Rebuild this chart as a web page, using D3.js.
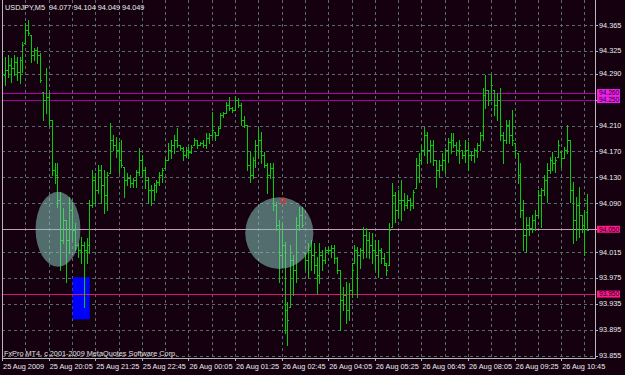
<!DOCTYPE html>
<html>
<head>
<meta charset="utf-8">
<script src="https://cdn.jsdelivr.net/npm/d3@7"></script>
<style>
  body { margin: 0; background: #14000f; }
  svg { display: block; }
  text { font-family: "Liberation Sans", Arial, sans-serif; font-size: 7.3px; }
</style>
</head>
<body>
<div id="chart"></div>
<script>
// USDJPY M5 bars, 25 Aug 2009 18:50 .. 26 Aug 2009 11:30
var symbol = "USDJPY,M5";
var lastQuote = ["94.077", "94.104", "94.049", "94.049"];

var open = [
  94.288,94.296,94.303,94.299,94.308,94.292,94.311,94.337,94.357,94.350,
  94.319,94.326,94.319,94.262,94.249,94.254,94.218,94.141,94.134,94.095,
  94.033,94.064,94.033,94.080,94.049,94.026,94.018,94.026,94.018,94.026,
  94.087,94.126,94.111,94.141,94.118,94.103,94.137,94.188,94.180,94.172,
  94.157,94.146,94.126,94.129,94.121,94.126,94.138,94.157,94.141,94.126,
  94.111,94.111,94.118,94.123,94.134,94.144,94.157,94.172,94.180,94.188,
  94.180,94.175,94.165,94.172,94.169,94.180,94.188,94.180,94.183,94.180,
  94.191,94.195,94.200,94.195,94.206,94.226,94.229,94.242,94.237,94.234,
  94.249,94.242,94.218,94.211,94.149,94.134,94.157,94.180,94.188,94.165,
  94.149,94.134,94.144,94.087,94.057,94.010,94.026,93.926,93.930,94.003,
  93.987,94.057,94.072,94.013,94.003,94.018,94.010,93.995,93.980,94.010,
  94.003,94.018,94.018,94.021,94.006,93.987,93.941,93.949,93.926,93.956,
  93.998,94.018,94.010,94.018,94.041,94.033,94.026,94.018,94.010,94.018,
  94.006,93.995,93.995,94.053,94.103,94.080,94.095,94.095,94.087,94.095,
  94.087,94.114,94.149,94.157,94.172,94.195,94.172,94.180,94.157,94.141,
  94.149,94.157,94.172,94.185,94.188,94.180,94.172,94.172,94.165,94.172,
  94.165,94.165,94.172,94.180,94.195,94.257,94.265,94.249,94.265,94.242,
  94.249,94.195,94.188,94.211,94.195,94.183,94.168,94.134,94.080,94.041,
  94.057,94.052,94.064,94.072,94.103,94.111,94.126,94.141,94.157,94.152,
  94.161,94.169,94.160,94.172,94.188,94.111,94.064,94.087,94.072,94.057,
  94.077
];
var high = [
  94.316,94.319,94.314,94.319,94.316,94.316,94.339,94.368,94.373,94.350,
  94.330,94.331,94.322,94.262,94.299,94.262,94.218,94.152,94.152,94.107,
  94.083,94.064,94.100,94.092,94.060,94.029,94.038,94.030,94.037,94.095,
  94.141,94.137,94.149,94.149,94.141,94.138,94.214,94.195,94.192,94.185,
  94.188,94.146,94.137,94.134,94.129,94.141,94.175,94.165,94.146,94.131,
  94.118,94.121,94.126,94.138,94.144,94.160,94.183,94.188,94.195,94.206,
  94.180,94.177,94.177,94.177,94.180,94.191,94.188,94.185,94.188,94.198,
  94.198,94.231,94.200,94.208,94.229,94.231,94.246,94.254,94.239,94.255,
  94.252,94.245,94.225,94.211,94.169,94.161,94.188,94.208,94.200,94.169,
  94.152,94.152,94.152,94.092,94.064,94.060,94.030,93.938,94.026,94.010,
  94.069,94.084,94.084,94.013,94.029,94.033,94.029,94.007,94.029,94.018,
  94.023,94.023,94.026,94.026,94.007,93.987,93.961,93.969,93.967,93.998,
  94.026,94.023,94.021,94.053,94.052,94.046,94.044,94.033,94.033,94.021,
  94.013,93.998,94.060,94.121,94.107,94.111,94.126,94.106,94.103,94.098,
  94.111,94.160,94.168,94.180,94.208,94.200,94.188,94.188,94.157,94.157,
  94.168,94.175,94.191,94.198,94.198,94.185,94.188,94.172,94.188,94.185,
  94.169,94.175,94.183,94.200,94.268,94.288,94.265,94.288,94.265,94.260,
  94.268,94.200,94.218,94.218,94.234,94.183,94.168,94.152,94.095,94.069,
  94.069,94.072,94.080,94.111,94.114,94.134,94.152,94.161,94.169,94.161,
  94.188,94.169,94.177,94.211,94.188,94.123,94.100,94.115,94.072,94.080,
  94.104
];
var low = [
  94.272,94.285,94.277,94.288,94.280,94.276,94.292,94.337,94.350,94.308,
  94.311,94.306,94.277,94.218,94.229,94.211,94.134,94.121,94.084,93.987,
  94.029,93.969,94.013,94.033,94.018,94.007,93.998,93.930,93.998,94.013,
  94.084,94.090,94.106,94.090,94.075,94.080,94.137,94.172,94.161,94.137,
  94.146,94.100,94.118,94.115,94.115,94.115,94.134,94.131,94.114,94.090,
  94.087,94.095,94.107,94.118,94.123,94.144,94.157,94.160,94.168,94.177,
  94.172,94.157,94.161,94.160,94.168,94.180,94.175,94.180,94.177,94.175,
  94.183,94.192,94.188,94.195,94.206,94.223,94.229,94.234,94.231,94.234,
  94.239,94.211,94.208,94.141,94.123,94.129,94.146,94.161,94.152,94.146,
  94.106,94.129,94.080,94.049,93.969,93.992,93.890,93.872,93.930,93.949,
  93.969,94.049,94.053,93.987,93.976,93.987,93.983,93.952,93.967,93.987,
  93.998,94.013,94.007,93.998,93.983,93.895,93.926,93.906,93.910,93.946,
  93.998,93.946,93.990,94.006,94.007,94.006,93.998,93.987,93.976,93.998,
  93.995,93.980,93.995,94.053,94.061,94.069,94.064,94.080,94.083,94.080,
  94.083,94.114,94.123,94.152,94.165,94.152,94.154,94.149,94.115,94.131,
  94.141,94.137,94.154,94.168,94.177,94.165,94.152,94.160,94.154,94.141,
  94.157,94.154,94.161,94.172,94.188,94.237,94.242,94.249,94.226,94.218,
  94.188,94.152,94.183,94.183,94.180,94.161,94.121,94.069,94.018,94.015,
  94.041,94.046,94.049,94.069,94.053,94.103,94.092,94.137,94.141,94.138,
  94.161,94.146,94.160,94.168,94.092,94.029,94.033,94.038,94.046,94.010,
  94.049
];
var close = [
  94.296,94.303,94.299,94.308,94.292,94.311,94.334,94.357,94.353,94.319,
  94.326,94.319,94.280,94.249,94.254,94.218,94.141,94.134,94.095,94.033,
  94.064,94.033,94.080,94.049,94.026,94.018,94.026,94.018,94.026,94.087,
  94.126,94.111,94.141,94.118,94.103,94.134,94.188,94.180,94.172,94.157,
  94.149,94.126,94.129,94.121,94.126,94.138,94.157,94.141,94.126,94.111,
  94.111,94.118,94.123,94.134,94.141,94.157,94.172,94.180,94.188,94.180,
  94.175,94.165,94.172,94.169,94.177,94.188,94.180,94.183,94.180,94.191,
  94.195,94.203,94.195,94.206,94.226,94.229,94.242,94.237,94.234,94.249,
  94.242,94.218,94.211,94.149,94.134,94.157,94.180,94.188,94.165,94.149,
  94.134,94.144,94.087,94.057,94.010,94.026,93.926,93.910,94.003,93.987,
  94.057,94.072,94.057,94.003,94.018,94.010,93.995,93.980,94.010,94.003,
  94.018,94.018,94.021,94.006,93.987,93.941,93.949,93.926,93.956,93.987,
  94.018,94.010,94.018,94.041,94.033,94.026,94.018,94.010,94.018,94.006,
  93.998,93.987,94.049,94.103,94.080,94.095,94.095,94.087,94.095,94.087,
  94.107,94.149,94.157,94.172,94.195,94.172,94.180,94.157,94.141,94.149,
  94.157,94.172,94.185,94.188,94.180,94.172,94.180,94.165,94.172,94.165,
  94.165,94.172,94.180,94.195,94.257,94.265,94.249,94.272,94.242,94.249,
  94.195,94.188,94.211,94.195,94.188,94.172,94.134,94.080,94.041,94.057,
  94.052,94.064,94.072,94.103,94.111,94.126,94.141,94.157,94.152,94.157,
  94.180,94.160,94.172,94.188,94.111,94.064,94.087,94.072,94.057,94.095,
  94.049
];

// price axis
var priceTicks = [93.855, 93.895, 93.935, 93.975, 94.015, 94.050, 94.090,
                  94.130, 94.170, 94.210, 94.250, 94.290, 94.325, 94.365];
var priceTickLabels = ["93.855", "93.895", "93.935", "93.975", "94.015", "94.050", "94.090",
                       "94.130", "94.170", "94.210", "94.250", "94.290", "94.325", "94.365"];

// time axis (bar index of each label)
var timeTickBars = [-1, 15, 31, 47, 63, 79, 95, 111, 127, 143, 159, 175, 191];
var timeTickLabels = ["25 Aug 2009", "25 Aug 20:05", "25 Aug 21:25", "25 Aug 22:45",
  "26 Aug 00:05", "26 Aug 01:25", "26 Aug 02:45", "26 Aug 04:05", "26 Aug 05:25",
  "26 Aug 06:45", "26 Aug 08:05", "26 Aug 09:25", "26 Aug 10:45"];
var gridBars = [-1, 7, 15, 23, 31, 39, 47, 55, 63, 71, 79, 87, 95, 103, 111, 119,
                127, 135, 143, 151, 159, 167, 175, 183, 191, 199];

// horizontal levels drawn on the chart
var levelPrices = [94.260, 94.250, 94.050, 93.950];
var levelLabels = ["94.260", "94.250", "94.050", "93.950"];
var levelColors = ["#b000b0", "#a000a0", "#c898c0", "#dc1478"];
var levelBoxColors = ["#f020f0", "#f020f0", "#ff1a8c", "#ff1a8c"];

// annotations: ellipses [centre bar, centre price, half width in bars, half height in price]
var ellipses = [[18.2, 94.050, 7.7, 0.0578], [94.2, 94.044, 11.7, 0.0552]];
var blueBox = [23.2, 29.1, 93.976, 93.911];
var arrowMark = [95.6, 94.098];

var copyright = "FxPro MT4, c 2001-2009 MetaQuotes Software Corp.";

var width = 625, height = 375;
var plot = {left: 2, right: 595, top: 0, bottom: 358};

var x = d3.scaleLinear().domain([0, 200]).range([5, 587.4]);
var y = d3.scaleLinear().domain([93.855, 94.365]).range([355.7, 25]);

var svg = d3.select("#chart").append("svg")
    .attr("width", width)
    .attr("height", height);

svg.append("rect")
    .attr("width", width).attr("height", height)
    .attr("fill", "#14000f");

var crisp = function(v) { return Math.round(v) + 0.5; };

// grid
var grid = svg.append("g")
    .attr("stroke", "#5b6b6b")
    .attr("stroke-dasharray", "3,3")
    .attr("shape-rendering", "crispEdges");

grid.selectAll(".hgrid")
    .data(priceTicks)
    .enter().append("line")
    .attr("x1", plot.left).attr("x2", plot.right)
    .attr("y1", function(d) { return crisp(y(d)); })
    .attr("y2", function(d) { return crisp(y(d)); });

grid.selectAll(".vgrid")
    .data(gridBars)
    .enter().append("line")
    .attr("y1", plot.top).attr("y2", plot.bottom)
    .attr("x1", function(d) { return crisp(x(d)); })
    .attr("x2", function(d) { return crisp(x(d)); });

// blue rectangle sits behind the bars
svg.append("rect")
    .attr("x", x(blueBox[0]))
    .attr("width", x(blueBox[1]) - x(blueBox[0]))
    .attr("y", y(blueBox[2]))
    .attr("height", y(blueBox[3]) - y(blueBox[2]))
    .attr("fill", "#0000ff");

// level lines
svg.selectAll(".level")
    .data(levelPrices)
    .enter().append("line")
    .attr("x1", plot.left).attr("x2", plot.right)
    .attr("y1", function(d) { return crisp(y(d)); })
    .attr("y2", function(d) { return crisp(y(d)); })
    .attr("stroke", function(d, i) { return levelColors[i]; })
    .attr("shape-rendering", "crispEdges");

// OHLC bars
var bars = svg.append("g")
    .attr("stroke", "#00d000")
    .attr("shape-rendering", "crispEdges");

var bar = bars.selectAll(".bar")
    .data(d3.range(open.length))
    .enter().append("g");

bar.append("line")
    .attr("x1", function(i) { return crisp(x(i)); })
    .attr("x2", function(i) { return crisp(x(i)); })
    .attr("y1", function(i) { return y(high[i]); })
    .attr("y2", function(i) { return y(low[i]) + 1; });

bar.append("line")
    .attr("x1", function(i) { return Math.round(x(i)) - 1; })
    .attr("x2", function(i) { return Math.round(x(i)); })
    .attr("y1", function(i) { return crisp(y(open[i])); })
    .attr("y2", function(i) { return crisp(y(open[i])); });

bar.append("line")
    .attr("x1", function(i) { return Math.round(x(i)) + 1; })
    .attr("x2", function(i) { return Math.round(x(i)) + 2; })
    .attr("y1", function(i) { return crisp(y(close[i])); })
    .attr("y2", function(i) { return crisp(y(close[i])); });

// translucent ellipses on top
svg.selectAll(".ellipse")
    .data(ellipses)
    .enter().append("ellipse")
    .attr("cx", function(d) { return x(d[0]); })
    .attr("cy", function(d) { return y(d[1]); })
    .attr("rx", function(d) { return x(d[0] + d[2]) - x(d[0]); })
    .attr("ry", function(d) { return y(d[1] - d[3]) - y(d[1]); })
    .attr("fill", "#86c4bc")
    .attr("fill-opacity", 0.55);

// red down arrow
var ax = x(arrowMark[0]), ay = y(arrowMark[1]);
svg.append("path")
    .attr("d", "M" + (ax - 1.5) + "," + ay + "h3v3h2l-3.5,3.5l-3.5,-3.5h2z")
    .attr("fill", "none")
    .attr("stroke", "#ff2828")
    .attr("stroke-width", 1);

// frame
svg.append("path")
    .attr("d", "M" + (plot.left + 0.5) + "," + plot.top + "V" + (plot.bottom + 0.5) +
               "H" + (plot.right + 0.5) + "V" + plot.top)
    .attr("fill", "none")
    .attr("stroke", "#b8b8b8")
    .attr("shape-rendering", "crispEdges");

// price axis ticks and labels (labels under a level box are hidden in MT4)
var covered = function(p) {
    return levelPrices.some(function(l) { return Math.abs(y(l) - y(p)) < 5; });
};

var yAxis = svg.append("g");
yAxis.selectAll(".ytick")
    .data(priceTicks)
    .enter().append("line")
    .attr("x1", plot.right).attr("x2", plot.right + 3)
    .attr("y1", function(d) { return crisp(y(d)); })
    .attr("y2", function(d) { return crisp(y(d)); })
    .attr("stroke", "#b8b8b8")
    .attr("shape-rendering", "crispEdges");

yAxis.selectAll(".ylabel")
    .data(priceTicks.filter(function(d) { return !covered(d); }))
    .enter().append("text")
    .attr("x", plot.right + 4)
    .attr("y", function(d) { return y(d); })
    .attr("dy", "0.35em")
    .attr("fill", "#ececec")
    .text(function(d) { return priceTickLabels[priceTicks.indexOf(d)]; });

// level price boxes; the two close magenta ones are stacked edge to edge
var boxTop = function(i) {
    if (i === 0) return y(levelPrices[0]) - 4;
    if (i === 1) return y(levelPrices[0]) + 3;
    return y(levelPrices[i]) - 3.5;
};

var boxes = svg.selectAll(".levelbox")
    .data(levelPrices)
    .enter().append("g");

boxes.append("rect")
    .attr("x", plot.right + 2)
    .attr("width", 23)
    .attr("y", function(d, i) { return boxTop(i); })
    .attr("height", 7)
    .attr("fill", function(d, i) { return levelBoxColors[i]; });

boxes.append("text")
    .attr("x", plot.right + 4)
    .attr("y", function(d, i) { return boxTop(i) + 3.5; })
    .attr("dy", "0.35em")
    .attr("fill", "#1a0010")
    .style("font-size", "6.6px")
    .text(function(d, i) { return levelLabels[i]; });

// time axis
var xAxis = svg.append("g");
xAxis.selectAll(".xtick")
    .data(timeTickBars)
    .enter().append("line")
    .attr("x1", function(d) { return crisp(x(d)); })
    .attr("x2", function(d) { return crisp(x(d)); })
    .attr("y1", plot.bottom).attr("y2", plot.bottom + 3)
    .attr("stroke", "#b8b8b8")
    .attr("shape-rendering", "crispEdges");

xAxis.selectAll(".xlabel")
    .data(timeTickBars)
    .enter().append("text")
    .attr("x", function(d) { return x(d) + 1; })
    .attr("y", 368.5)
    .attr("fill", "#ececec")
    .text(function(d, i) { return timeTickLabels[i]; });

// header and copyright
svg.append("text")
    .attr("x", 5).attr("y", 9.5)
    .attr("fill", "#ececec")
    .attr("xml:space", "preserve")
    .text(symbol + "  " + lastQuote.join(" "));

svg.append("text")
    .attr("x", 4).attr("y", 356)
    .attr("fill", "#e0e0e0")
    .text(copyright);
</script>
</body>
</html>
